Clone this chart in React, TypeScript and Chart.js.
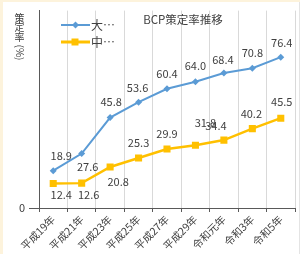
import React, { useEffect, useRef } from 'react';
import { Chart, registerables } from 'chart.js';

Chart.register(...registerables);

const categories = ['平成19年', '平成21年', '平成23年', '平成25年', '平成27年', '平成29年', '令和元年', '令和3年', '令和5年'];
const largeValues = [18.9, 27.6, 45.8, 53.6, 60.4, 64.0, 68.4, 70.8, 76.4];
const midValues = [12.4, 12.6, 20.8, 25.3, 29.9, 31.8, 34.4, 40.2, 45.5];
const seriesNames = ['大…', '中…'];
const yTickValues = [0];
const chartTitle = 'BCP策定率推移';
const yTitleChars = ['策', '定', '率'];
const yTitleUnit = '(%)';

// label placement offsets (style only)
const largeLabelOffsets = [[8, -15], [6, 13], [1, -16], [-1, -14], [0, -15], [0, -16], [-1, -13], [0, -15], [1, -14]];
const midLabelOffsets = [[8, 11], [7, 12], [8, 15], [0, -15], [0, -15], [10, -22], [-8, -14], [-1, -15], [1, -16]];

const FONT = "'Noto Sans CJK JP', 'Noto Sans', sans-serif";
const BLUE = '#5b9bd5';
const ORANGE = '#ffc000';
const TEXT = '#404040';

const bgPlugin = {
  id: 'bgPlugin',
  beforeDraw(chart: any) {
    const ctx = chart.ctx;
    ctx.save();
    ctx.fillStyle = '#fdf3dc';
    ctx.fillRect(0, 0, chart.width, chart.height);
    ctx.fillStyle = '#ffffff';
    ctx.fillRect(3, 2, chart.width - 3, chart.height - 2);
    ctx.strokeStyle = '#e4e4e4';
    ctx.lineWidth = 1;
    ctx.beginPath();
    ctx.moveTo(299.5, 2);
    ctx.lineTo(299.5, chart.height);
    ctx.stroke();
    ctx.restore();
  },
};

const decorPlugin = {
  id: 'decorPlugin',
  afterDatasetsDraw(chart: any) {
    const ctx = chart.ctx;
    ctx.save();
    // data labels
    ctx.font = `11px ${FONT}`;
    ctx.fillStyle = TEXT;
    ctx.textAlign = 'center';
    ctx.textBaseline = 'middle';
    const offsetSets = [largeLabelOffsets, midLabelOffsets];
    chart.data.datasets.forEach((ds: any, di: number) => {
      const meta = chart.getDatasetMeta(di);
      meta.data.forEach((pt: any, i: number) => {
        const [dx, dy] = offsetSets[di][i];
        ctx.fillText(Number(ds.data[i]).toFixed(1), pt.x + dx, pt.y + dy);
      });
    });

    // title
    ctx.font = `11.5px ${FONT}`;
    ctx.fillStyle = TEXT;
    ctx.fillText(chartTitle, 183, 20);

    // legend
    const legendY = [25, 42];
    const colors = [BLUE, ORANGE];
    const widths = [2, 3];
    for (let k = 0; k < 2; k++) {
      ctx.strokeStyle = colors[k];
      ctx.lineWidth = widths[k];
      ctx.beginPath();
      ctx.moveTo(61, legendY[k]);
      ctx.lineTo(90, legendY[k]);
      ctx.stroke();
      ctx.fillStyle = colors[k];
      ctx.beginPath();
      if (k === 0) {
        const r = 3.5;
        ctx.moveTo(75.5, legendY[k] - r);
        ctx.lineTo(75.5 + r, legendY[k]);
        ctx.lineTo(75.5, legendY[k] + r);
        ctx.lineTo(75.5 - r, legendY[k]);
        ctx.closePath();
      } else {
        ctx.rect(71.5, legendY[k] - 3.5, 7, 7);
      }
      ctx.fill();
      ctx.fillStyle = TEXT;
      ctx.font = `12px ${FONT}`;
      ctx.textAlign = 'left';
      ctx.fillText(seriesNames[k], 91, legendY[k]);
    }

    // y axis title (vertical)
    ctx.fillStyle = TEXT;
    ctx.font = `10px ${FONT}`;
    ctx.textAlign = 'center';
    ctx.textBaseline = 'middle';
    yTitleChars.forEach((c, i) => {
      ctx.fillText(c, 19.5, 18 + i * 9.5);
    });
    ctx.save();
    ctx.translate(19.5, 52.5);
    ctx.rotate(Math.PI / 2);
    ctx.fillText(yTitleUnit, 0, 0);
    ctx.restore();

    ctx.restore();
  },
};

export default function App() {
  const canvasRef = useRef<HTMLCanvasElement | null>(null);

  useEffect(() => {
    if (!canvasRef.current) return;
    const chart = new Chart(canvasRef.current, {
      type: 'line',
      data: {
        labels: categories,
        datasets: [
          {
            label: seriesNames[0],
            data: largeValues,
            borderColor: BLUE,
            backgroundColor: BLUE,
            borderWidth: 2,
            pointStyle: 'rectRot',
            pointRadius: 3.5,
            pointBorderWidth: 0,
            tension: 0,
          },
          {
            label: seriesNames[1],
            data: midValues,
            borderColor: ORANGE,
            backgroundColor: ORANGE,
            borderWidth: 2.5,
            pointStyle: 'rect',
            pointRadius: 5,
            pointBorderWidth: 0,
            tension: 0,
          },
        ],
      },
      options: {
        responsive: false,
        animation: false,
        devicePixelRatio: 1,
        layout: { padding: { top: 10, right: 4, left: 0, bottom: 0 } },
        plugins: {
          legend: { display: false },
          title: { display: false },
          tooltip: { enabled: false },
        },
        scales: {
          x: {
            offset: true,
            grid: {
              offset: true,
              color: '#d9d9d9',
              tickColor: '#595959',
              tickLength: 4,
              drawOnChartArea: true,
            },
            border: { color: '#595959', width: 1 },
            ticks: {
              autoSkip: false,
              minRotation: 45,
              maxRotation: 45,
              color: TEXT,
              padding: 1,
              font: { family: FONT, size: 10.5 },
            },
            afterFit(scale: any) {
              scale.height = 46;
            },
          },
          y: {
            min: 0,
            max: 100,
            ticks: {
              stepSize: 100,
              color: TEXT,
              padding: 4,
              font: { family: FONT, size: 11 },
              callback: (v: any) => (yTickValues.includes(Number(v)) ? String(v) : ''),
            },
            grid: {
              drawOnChartArea: false,
              drawTicks: true,
              tickLength: 10,
              tickColor: (c: any) => (c.tick && c.tick.value === 0 ? '#595959' : 'rgba(0,0,0,0)'),
            },
            border: { color: '#595959', width: 1 },
            afterFit(scale: any) {
              scale.width = 39;
            },
          },
        },
      },
      plugins: [bgPlugin, decorPlugin],
    });
    return () => chart.destroy();
  }, []);

  return (
    <div style={{ position: 'fixed', left: 0, top: 0, width: 300, height: 254 }}>
      <canvas ref={canvasRef} width={300} height={254} />
    </div>
  );
}
